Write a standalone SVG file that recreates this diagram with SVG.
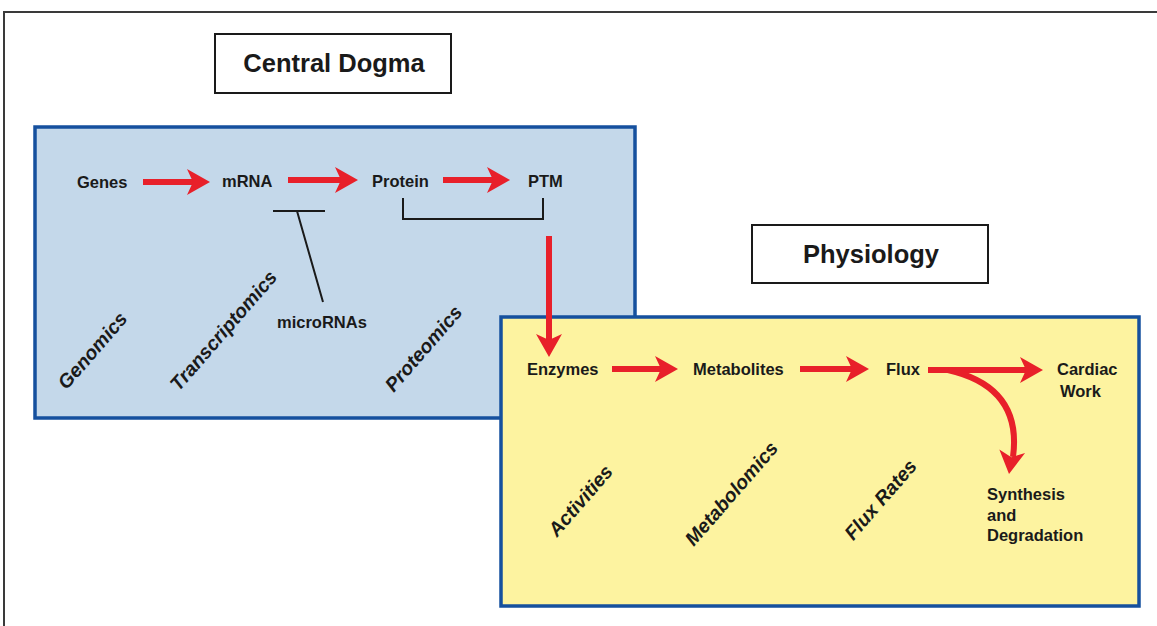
<svg xmlns="http://www.w3.org/2000/svg" width="1157" height="626" viewBox="0 0 1157 626">
<style>
.frame{fill:none;stroke:#3a3a3a;stroke-width:2}
.title{fill:#fff;stroke:#1a1a1a;stroke-width:2}
.panel{stroke:#15509e;stroke-width:3.5}
.t{font-family:"Liberation Sans",Arial,sans-serif;font-weight:bold;font-size:16.5px;fill:#1a1a1a}
.h{font-family:"Liberation Sans",Arial,sans-serif;font-weight:bold;font-size:25.5px;fill:#1a1a1a}
.it{font-family:"Liberation Sans",Arial,sans-serif;font-weight:bold;font-style:italic;font-size:19.5px;fill:#1a1a1a}
.shaft{stroke:#e8202a;stroke-width:6;fill:none}
.head{fill:#e8202a}
.blk{stroke:#1a1a1a;stroke-width:2;fill:none}
</style>
<defs>
<path id="ah" d="M0 0 L-23 -13 L-17 0 L-23 13 Z"/>
</defs>
<rect width="1157" height="626" fill="#fff"/>
<path class="frame" d="M4 626 V12 H1157"/>
<g id="central-dogma-title">
<rect class="title" x="215" y="34" width="236" height="59"/>
<text class="h" x="334" y="72" text-anchor="middle">Central Dogma</text>
</g>
<g id="central-dogma-panel">
<rect class="panel" x="35" y="127" width="600" height="291" fill="#c4d8ea"/>
</g>
<g id="physiology-title">
<rect class="title" x="752" y="225" width="236" height="58"/>
<text class="h" x="871" y="263" text-anchor="middle">Physiology</text>
</g>
<g id="physiology-panel">
<rect class="panel" x="501" y="317" width="638" height="289" fill="#fdf3a0"/>
</g>
<g id="genes"><text class="t" x="77" y="188">Genes</text></g>
<g id="mrna"><text class="t" x="222" y="187">mRNA</text></g>
<g id="protein"><text class="t" x="372" y="187">Protein</text></g>
<g id="ptm"><text class="t" x="528" y="187">PTM</text></g>
<g id="micrornas"><text class="t" x="277" y="328">microRNAs</text></g>
<g id="enzymes"><text class="t" x="527" y="375">Enzymes</text></g>
<g id="metabolites"><text class="t" x="693" y="375">Metabolites</text></g>
<g id="flux"><text class="t" x="886" y="375">Flux</text></g>
<g id="cardiac-work"><text class="t" x="1057" y="375">Cardiac</text><text class="t" x="1060" y="397">Work</text></g>
<g id="synthesis"><text class="t" x="987" y="500">Synthesis</text><text class="t" x="987" y="521">and</text><text class="t" x="987" y="541">Degradation</text></g>
<g id="labels">
<text class="it" transform="translate(93,351) rotate(-49)" x="0" y="6" text-anchor="middle">Genomics</text>
<text class="it" transform="translate(224,331) rotate(-49)" x="0" y="6" text-anchor="middle">Transcriptomics</text>
<text class="it" transform="translate(424,349) rotate(-49)" x="0" y="6" text-anchor="middle">Proteomics</text>
<text class="it" transform="translate(581,501) rotate(-49)" x="0" y="6" text-anchor="middle">Activities</text>
<text class="it" transform="translate(732,494) rotate(-49)" x="0" y="6" text-anchor="middle">Metabolomics</text>
<text class="it" transform="translate(881,500) rotate(-49)" x="0" y="6" text-anchor="middle">Flux Rates</text>
</g>
<g id="connectors">
<line class="shaft" x1="143" y1="182" x2="194" y2="182"/>
<use href="#ah" class="head" transform="translate(210,182)"/>
<line class="shaft" x1="288" y1="180" x2="342" y2="180"/>
<use href="#ah" class="head" transform="translate(358,180)"/>
<line class="shaft" x1="443" y1="180" x2="494" y2="180"/>
<use href="#ah" class="head" transform="translate(510,180)"/>
<line class="shaft" x1="549" y1="236" x2="549" y2="341"/>
<use href="#ah" class="head" transform="translate(549,357) rotate(90)"/>
<line class="shaft" x1="612" y1="369" x2="662" y2="369"/>
<use href="#ah" class="head" transform="translate(678,369)"/>
<line class="shaft" x1="800" y1="369" x2="853" y2="369"/>
<use href="#ah" class="head" transform="translate(869,369)"/>
<line class="shaft" x1="928" y1="370" x2="1027" y2="370"/>
<use href="#ah" class="head" transform="translate(1043,370)"/>
<path class="shaft" d="M948 370 C992 380 1020 405 1013 457"/>
<use href="#ah" class="head" transform="translate(1009,474) rotate(98)"/>
<path class="blk" d="M273 211 H325 M297 211 L323 302"/>
<path class="blk" d="M403 198 V219 H543 V198"/>
</g>
</svg>
